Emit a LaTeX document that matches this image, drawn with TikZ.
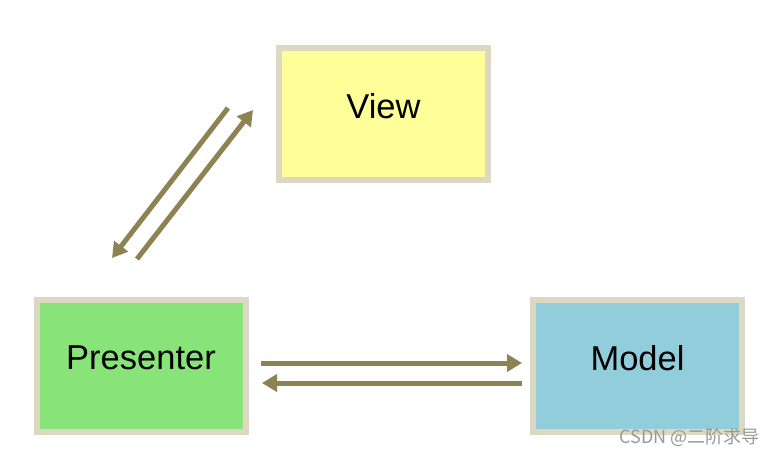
\documentclass[tikz,border=0pt]{standalone}
\usepackage{fontspec}
\setmainfont{Liberation Sans}
\newfontfamily\cjk{Noto Sans CJK SC}
\usetikzlibrary{arrows.meta}
\definecolor{rim}{RGB}{221,216,196}
\definecolor{viewc}{RGB}{255,255,153}
\definecolor{presc}{RGB}{136,227,120}
\definecolor{modelc}{RGB}{146,205,220}
\definecolor{arrc}{RGB}{140,130,82}
\tikzset{
	box/.style={draw=rim,line width=6pt,minimum width=209pt,minimum height=132pt,inner sep=0pt},
	boxtext/.style={font=\fontsize{34.5}{40}\selectfont,yshift=8pt},
	arr/.style={arrc,line width=5pt,-{Triangle[length=15pt,width=17pt]}}
}
\begin{document}
\begin{tikzpicture}[x=1pt,y=-1pt]
		\useasboundingbox[fill=white] (0,0) rectangle (775,456);
		\node[box,fill=viewc,label={[boxtext]center:View}] (V) at (383.5,114) {}; %View
		\node[box,fill=presc,label={[boxtext]center:Presenter}] (P) at (141,366) {}; %Presenter
		\node[box,fill=modelc,label={[boxtext]center:Model}] (M) at (637.5,366) {}; %Model
		\coordinate (vp1) at (228,108);
		\coordinate (vp2) at (112,258);
		\coordinate (pv1) at (137,259);
		\coordinate (pv2) at (253,110);
		\coordinate (pm1) at ([xshift=12.5pt,yshift=3pt]P.east);
		\coordinate (pm2) at ([xshift=-8pt,yshift=3pt]M.west);
		\coordinate (mp1) at ([xshift=-8pt,yshift=-17pt]M.west);
		\coordinate (mp2) at ([xshift=13.5pt,yshift=-17pt]P.east);
		\draw[arr] (vp1)--(vp2); %View -> Presenter
		\draw[arr] (pv1)--(pv2); %Presenter -> View
		\draw[arr] (pm1)--(pm2); %Presenter -> Model
		\draw[arr] (mp1)--(mp2); %Model -> Presenter
		\node[font=\cjk\fontsize{18}{20}\selectfont,text=black!40,anchor=east,inner sep=0pt] (wm) at (760,437) {CSDN @二阶求导};
	\end{tikzpicture}
\end{document}
